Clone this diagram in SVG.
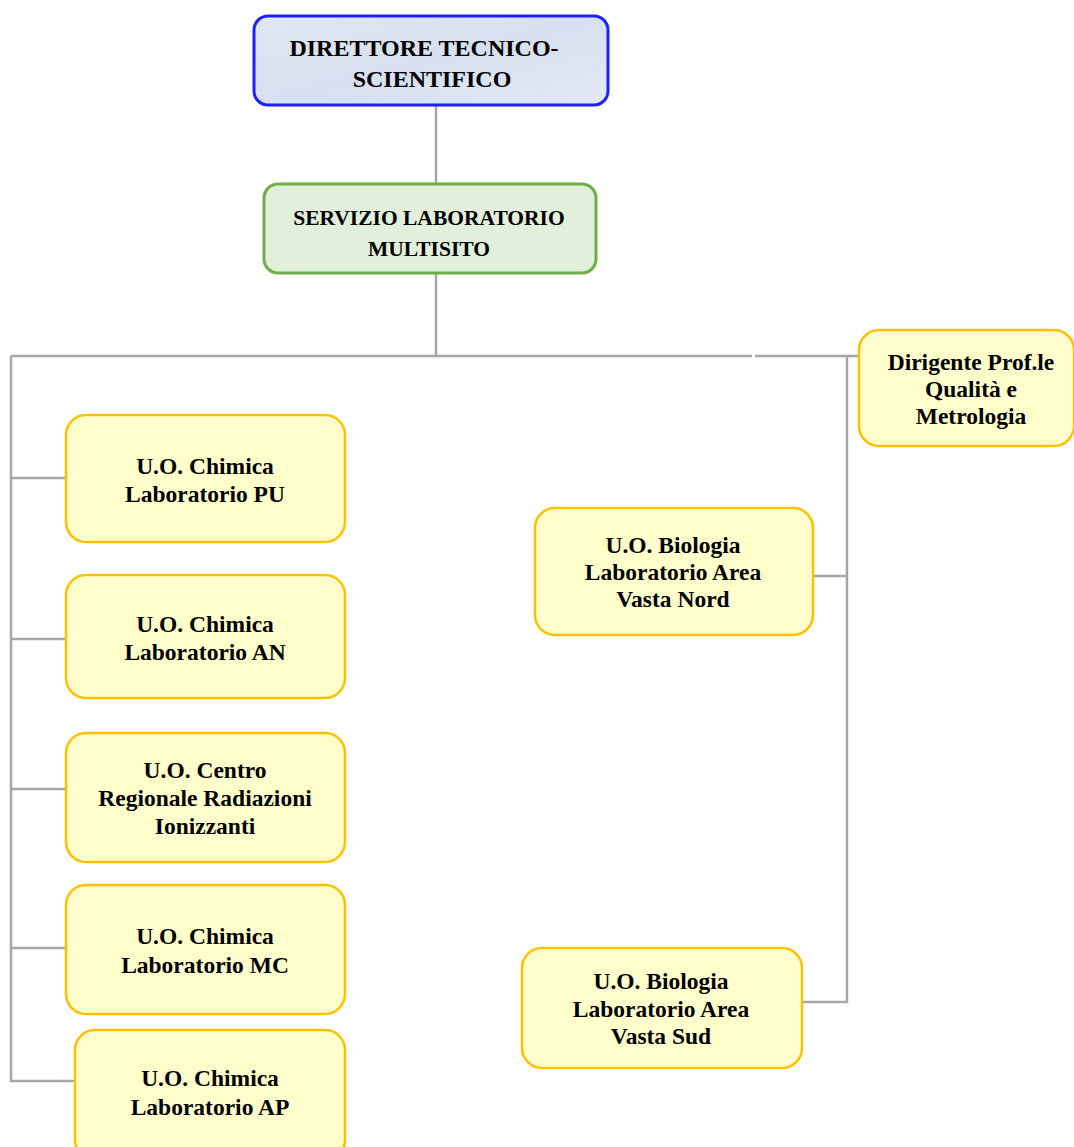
<svg xmlns="http://www.w3.org/2000/svg" width="1074" height="1147" viewBox="0 0 1074 1147">
  <style>
    .lbl { font-family: "Liberation Serif", "Times New Roman", serif; font-weight: bold; fill: #000; text-anchor: middle; }
    .unit { fill: #ffffcc; stroke: #ffc000; stroke-width: 2.5; }
    .wire { fill: none; stroke: #a6a6a6; stroke-width: 2.5; }
  </style>
  <defs>
    <linearGradient id="blueFill" x1="0" y1="0" x2="1" y2="1">
      <stop offset="0" stop-color="#dfe7f2"/>
      <stop offset="0.5" stop-color="#d6e0ee"/>
      <stop offset="1" stop-color="#e2e9f3"/>
    </linearGradient>
  </defs>

  <rect width="1074" height="1147" fill="#ffffff"/>

  <!-- connectors -->
  <g id="connectors" class="wire">
    <line x1="436" y1="105" x2="436" y2="184"/>
    <line x1="436" y1="273" x2="436" y2="356"/>
    <line x1="11" y1="356" x2="752" y2="356"/>
    <line x1="755" y1="356" x2="859" y2="356"/>
    <polyline points="11,356 11,1081 75,1081"/>
    <line x1="11" y1="478" x2="66" y2="478"/>
    <line x1="11" y1="639" x2="66" y2="639"/>
    <line x1="11" y1="789" x2="66" y2="789"/>
    <line x1="11" y1="948" x2="66" y2="948"/>
    <polyline points="847,356 847,1002 802,1002"/>
    <line x1="813" y1="576" x2="847" y2="576"/>
  </g>

  <g id="direttore">
    <rect x="254" y="16" width="354" height="89" rx="14" fill="url(#blueFill)" stroke="#1f1fff" stroke-width="3"/>
    <text class="lbl" font-size="24" x="424" y="56">DIRETTORE TECNICO-</text>
    <text class="lbl" font-size="24" x="432" y="87">SCIENTIFICO</text>
  </g>

  <g id="servizio">
    <rect x="264" y="184" width="332" height="89" rx="14" fill="#e2efda" stroke="#70ad47" stroke-width="3"/>
    <text class="lbl" font-size="21.5" x="429" y="225">SERVIZIO LABORATORIO</text>
    <text class="lbl" font-size="21.5" x="429" y="256">MULTISITO</text>
  </g>

  <g id="dirigente">
    <rect class="unit" x="859" y="330" width="215" height="116" rx="20"/>
    <text class="lbl" font-size="23.5" x="971" y="370">Dirigente Prof.le</text>
    <text class="lbl" font-size="23.5" x="971" y="397">Qualità e</text>
    <text class="lbl" font-size="23.5" x="971" y="424">Metrologia</text>
  </g>

  <g id="chimica-pu">
    <rect class="unit" x="66" y="415" width="279" height="127" rx="20"/>
    <text class="lbl" font-size="23.5" x="205" y="474">U.O. Chimica</text>
    <text class="lbl" font-size="23.5" x="205" y="502">Laboratorio PU</text>
  </g>

  <g id="chimica-an">
    <rect class="unit" x="66" y="575" width="279" height="123" rx="20"/>
    <text class="lbl" font-size="23.5" x="205" y="632">U.O. Chimica</text>
    <text class="lbl" font-size="23.5" x="205" y="660">Laboratorio AN</text>
  </g>

  <g id="centro-radiazioni">
    <rect class="unit" x="66" y="733" width="279" height="129" rx="20"/>
    <text class="lbl" font-size="23.5" x="205" y="778">U.O. Centro</text>
    <text class="lbl" font-size="23.5" x="205" y="806">Regionale Radiazioni</text>
    <text class="lbl" font-size="23.5" x="205" y="834">Ionizzanti</text>
  </g>

  <g id="chimica-mc">
    <rect class="unit" x="66" y="885" width="279" height="129" rx="20"/>
    <text class="lbl" font-size="23.5" x="205" y="944">U.O. Chimica</text>
    <text class="lbl" font-size="23.5" x="205" y="973">Laboratorio MC</text>
  </g>

  <g id="chimica-ap">
    <rect class="unit" x="75" y="1030" width="270" height="130" rx="20"/>
    <text class="lbl" font-size="23.5" x="210" y="1086">U.O. Chimica</text>
    <text class="lbl" font-size="23.5" x="210" y="1115">Laboratorio AP</text>
  </g>

  <g id="biologia-nord">
    <rect class="unit" x="535" y="508" width="278" height="127" rx="20"/>
    <text class="lbl" font-size="23.5" x="673" y="553">U.O. Biologia</text>
    <text class="lbl" font-size="23.5" x="673" y="580">Laboratorio Area</text>
    <text class="lbl" font-size="23.5" x="673" y="607">Vasta Nord</text>
  </g>

  <g id="biologia-sud">
    <rect class="unit" x="522" y="948" width="280" height="120" rx="20"/>
    <text class="lbl" font-size="23.5" x="661" y="989">U.O. Biologia</text>
    <text class="lbl" font-size="23.5" x="661" y="1017">Laboratorio Area</text>
    <text class="lbl" font-size="23.5" x="661" y="1044">Vasta Sud</text>
  </g>
</svg>
